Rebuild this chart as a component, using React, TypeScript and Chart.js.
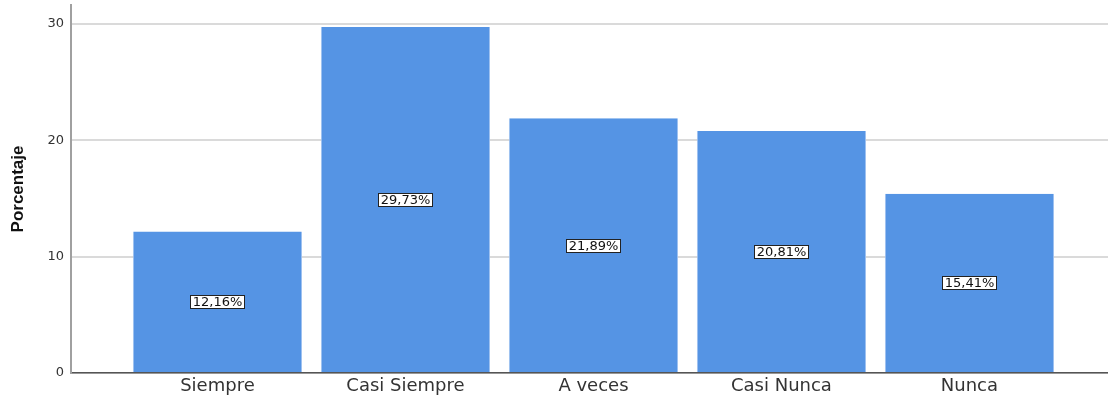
import React, { useEffect, useRef } from 'react';
import { Chart, registerables } from 'chart.js';

Chart.register(...registerables);

const categories = ['Siempre', 'Casi Siempre', 'A veces', 'Casi Nunca', 'Nunca'];
const percentages = [12.16, 29.73, 21.89, 20.81, 15.41];
const yTickValues = [0, 10, 20, 30];

const formatPct = (v: number) => v.toFixed(2).replace('.', ',') + '%';

const boxLabels = {
  id: 'boxLabels',
  afterDatasetsDraw(chart: any) {
    const ctx = chart.ctx as CanvasRenderingContext2D;
    const meta = chart.getDatasetMeta(0);
    ctx.save();
    ctx.font = '13px "DejaVu Sans"';
    meta.data.forEach((bar: any, i: number) => {
      const { x, y, base } = bar.getProps(['x', 'y', 'base'], true);
      const cy = (y + base) / 2;
      const text = formatPct(percentages[i]);
      const w = Math.round(ctx.measureText(text).width + 4);
      const h = 13;
      const left = Math.round(x - w / 2) + 0.5;
      const top = Math.round(cy - h / 2) + 0.5;
      ctx.fillStyle = '#ffffff';
      ctx.fillRect(left, top, w, h);
      ctx.strokeStyle = '#222222';
      ctx.lineWidth = 1;
      ctx.strokeRect(left, top, w, h);
      ctx.fillStyle = '#111111';
      ctx.textAlign = 'center';
      ctx.textBaseline = 'middle';
      ctx.fillText(text, left + w / 2, top + h / 2 + 0.5);
    });
    ctx.restore();
  },
};

export default function App() {
  const canvasRef = useRef<HTMLCanvasElement | null>(null);

  useEffect(() => {
    if (!canvasRef.current) return;
    const chart = new Chart(canvasRef.current, {
      type: 'bar',
      data: {
        datasets: [
          {
            data: percentages.map((v, i) => ({ x: i, y: v })),
            backgroundColor: '#5594e4',
            borderColor: '#9ec1f0',
            borderWidth: { left: 1, right: 1, top: 0, bottom: 0 },
            categoryPercentage: 1,
            barPercentage: 0.9,
          } as any,
        ],
      },
      options: {
        animation: false,
        responsive: false,
        maintainAspectRatio: false,
        devicePixelRatio: 1,
        layout: { padding: { top: 5, right: 0, left: 0, bottom: 0 } },
        plugins: {
          legend: { display: false },
          tooltip: { enabled: false },
        },
        scales: {
          x: {
            type: 'linear',
            offset: false,
            min: -0.779,
            max: 4.737,
            grid: { display: false, drawTicks: false, offset: false },
            border: { display: true, color: '#555555', width: 1.5 },
            afterBuildTicks: (axis: any) => {
              axis.ticks = categories.map((_, i) => ({ value: i }));
            },
            afterFit: (axis: any) => {
              axis.height = 25;
              axis.paddingLeft = 0;
              axis.paddingRight = 0;
            },
            ticks: {
              autoSkip: false,
              maxRotation: 0,
              minRotation: 0,
              padding: 3,
              color: '#333333',
              font: { family: '"DejaVu Sans"', size: 18 },
              callback: (v: any) => categories[Number(v)] ?? '',
            },
          },
          y: {
            min: 0,
            max: 31.63,
            afterBuildTicks: (axis: any) => {
              axis.ticks = yTickValues.map((v) => ({ value: v }));
            },
            afterFit: (axis: any) => {
              axis.width = 71;
              axis.paddingTop = 0;
              axis.paddingBottom = 0;
            },
            grid: { color: '#dadada', lineWidth: 2, drawTicks: false },
            border: { color: '#a0a0a0', width: 2 },
            ticks: {
              padding: 7,
              color: '#333333',
              font: { family: '"DejaVu Sans"', size: 13 },
            },
            title: {
              display: true,
              text: 'Porcentaje',
              color: '#111111',
              font: { family: '"Liberation Sans"', size: 17, weight: 'bold' },
              padding: { top: 8, bottom: 0 },
            },
          },
        },
      } as any,
      plugins: [boxLabels],
    });
    return () => chart.destroy();
  }, []);

  return (
    <div style={{ position: 'absolute', left: 0, top: 0, width: 1108, height: 398, background: '#ffffff' }}>
      <canvas ref={canvasRef} width={1108} height={398} style={{ display: 'block' }} />
    </div>
  );
}
